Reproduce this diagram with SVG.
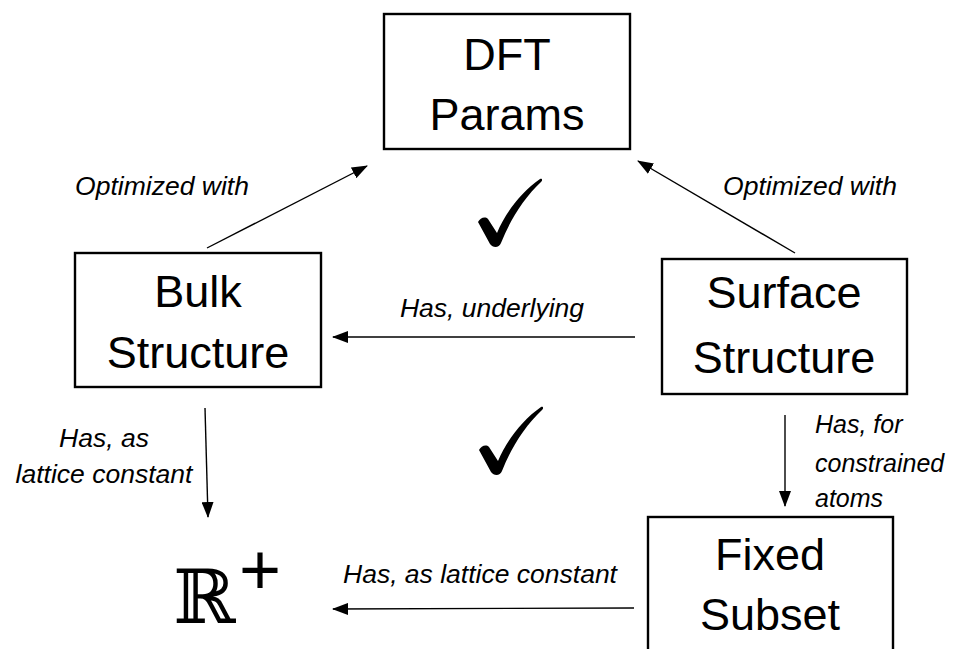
<svg xmlns="http://www.w3.org/2000/svg" width="959" height="649" viewBox="0 0 959 649">
<style>
.box{fill:#fff;stroke:#000;stroke-width:2.4}
.nt{font-family:"Liberation Sans",Arial,sans-serif;font-size:45px;fill:#000;text-anchor:middle}
.lb{font-family:"Liberation Sans",Arial,sans-serif;font-size:26.5px;font-style:italic;fill:#000;text-anchor:middle}
.ls{font-family:"Liberation Sans",Arial,sans-serif;font-size:25px;font-style:italic;fill:#000}
.ln{stroke:#000;stroke-width:1.4;fill:none;marker-end:url(#ah)}
</style>
<defs>
<marker id="ah" viewBox="0 0 16 12" refX="15" refY="6" markerWidth="16" markerHeight="12" markerUnits="userSpaceOnUse" orient="auto">
<path d="M0,0 L16,6 L0,12 Z" fill="#000"/>
</marker>
<path id="check" d="M478,222 C480,218 485,216 488,219 L497,233 C505,214 520,193 540,179 C542,178 543,180 541,182 C524,198 510,220 501,243 C499,248 493,248 490,244 Z" fill="#000"/>
</defs>
<rect width="959" height="649" fill="#fff"/>
<g id="connectors">
<line class="ln" x1="207" y1="248" x2="367" y2="166"/>
<line class="ln" x1="795" y1="253" x2="638" y2="161"/>
<line class="ln" x1="635" y1="337" x2="333" y2="337"/>
<line class="ln" x1="205" y1="408" x2="208" y2="517"/>
<line class="ln" x1="785" y1="415" x2="785" y2="506"/>
<line class="ln" x1="634" y1="608" x2="333" y2="609"/>
<text class="lb" x="162" y="195">Optimized with</text>
<text class="lb" x="810" y="195">Optimized with</text>
<text class="lb" x="492" y="317">Has, underlying</text>
<text class="lb" x="104" y="447">Has, as</text>
<text class="lb" x="104" y="483">lattice constant</text>
<text class="ls" x="815" y="433">Has, for</text>
<text class="ls" x="815" y="472">constrained</text>
<text class="ls" x="815" y="507">atoms</text>
<text class="lb" x="480" y="583">Has, as lattice constant</text>
</g>
<g id="dft">
<rect class="box" x="384" y="14" width="246" height="135"/>
<text class="nt" x="507" y="70">DFT</text>
<text class="nt" x="507" y="130">Params</text>
</g>
<g id="bulk">
<rect class="box" x="75" y="253" width="246" height="134"/>
<text class="nt" x="198" y="307">Bulk</text>
<text class="nt" x="198" y="368">Structure</text>
</g>
<g id="surface">
<rect class="box" x="662" y="259" width="245" height="135"/>
<text class="nt" x="784" y="308">Surface</text>
<text class="nt" x="784" y="373">Structure</text>
</g>
<g id="fixed">
<rect class="box" x="648" y="517" width="245" height="150"/>
<text class="nt" x="770" y="570">Fixed</text>
<text class="nt" x="770" y="630">Subset</text>
</g>
<g id="reals">
<text x="173" y="623" style="font-family:'DejaVu Serif',serif;font-size:75px;fill:#000">ℝ</text>
<text x="239" y="594" style="font-family:'Liberation Sans',Arial,sans-serif;font-size:72px;fill:#000">+</text>
</g>
<g id="checks">
<use href="#check"/>
<use href="#check" transform="translate(1,228)"/>
</g>
</svg>
